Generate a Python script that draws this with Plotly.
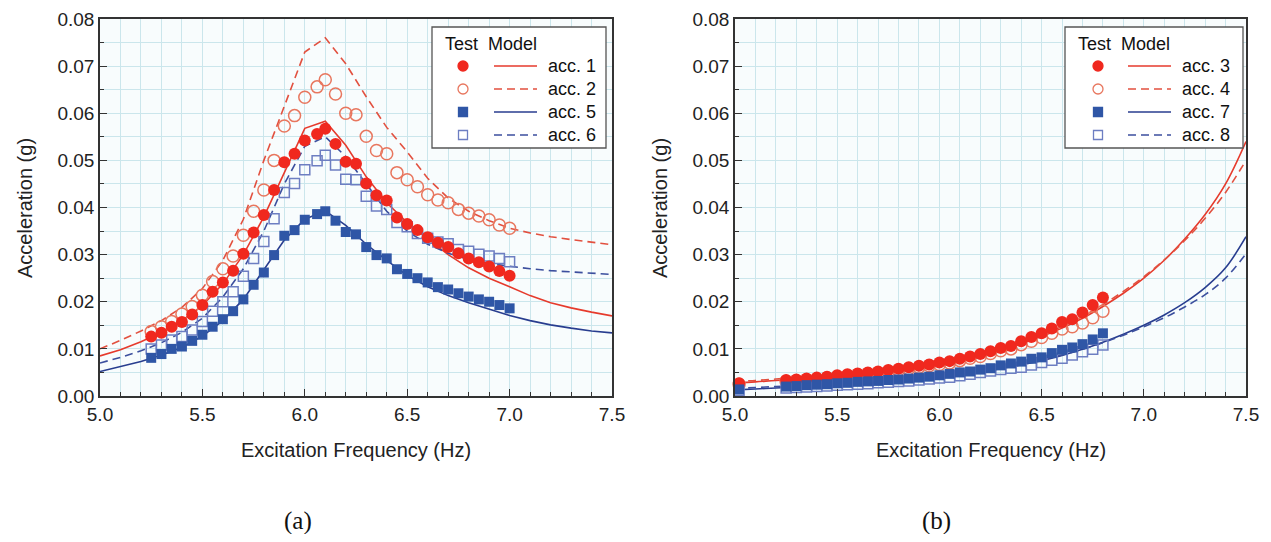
import plotly.graph_objects as go

# page is 1271 x 542; body keeps its default 8px margin, so the figure is 16px smaller
PAGE_W, PAGE_H = 1271, 542
OFF = 8
W, H = PAGE_W - 2 * OFF, PAGE_H - 2 * OFF

# ---------------- Panel (a) data ----------------
test_freq_a = [5.25, 5.30, 5.35, 5.40, 5.45, 5.50, 5.55, 5.60, 5.65, 5.70, 5.75, 5.80,
               5.85, 5.90, 5.95, 6.00, 6.06, 6.10, 6.15, 6.20, 6.25, 6.30, 6.35, 6.40,
               6.45, 6.50, 6.55, 6.60, 6.65, 6.70, 6.75, 6.80, 6.85, 6.90, 6.95, 7.00]
acc1_test = [0.0126, 0.0134, 0.0147, 0.0157, 0.0173, 0.0193, 0.0221, 0.0241, 0.0266, 0.0302, 0.0347, 0.0384,
             0.0437, 0.0496, 0.0514, 0.0542, 0.0556, 0.0567, 0.0535, 0.0497, 0.0493, 0.0451, 0.0426, 0.0415,
             0.0379, 0.0365, 0.0352, 0.0337, 0.0325, 0.0316, 0.0303, 0.0292, 0.0284, 0.0275, 0.0265, 0.0255]
acc2_test = [0.0137, 0.0147, 0.0158, 0.0174, 0.0190, 0.0214, 0.0243, 0.0270, 0.0297, 0.0341, 0.0392, 0.0437,
             0.0500, 0.0573, 0.0595, 0.0634, 0.0656, 0.0671, 0.0641, 0.0600, 0.0597, 0.0551, 0.0521, 0.0514,
             0.0474, 0.0459, 0.0444, 0.0427, 0.0416, 0.0410, 0.0396, 0.0388, 0.0382, 0.0374, 0.0363, 0.0356]
acc5_test = [0.0081, 0.0089, 0.0100, 0.0105, 0.0117, 0.0130, 0.0147, 0.0163, 0.0180, 0.0205, 0.0236, 0.0262,
             0.0299, 0.0340, 0.0352, 0.0374, 0.0386, 0.0392, 0.0372, 0.0348, 0.0343, 0.0316, 0.0299, 0.0292,
             0.0269, 0.0259, 0.0250, 0.0241, 0.0231, 0.0226, 0.0218, 0.0211, 0.0205, 0.0200, 0.0193, 0.0186]
acc6_test = [0.0100, 0.0108, 0.0119, 0.0126, 0.0140, 0.0158, 0.0180, 0.0200, 0.0221, 0.0254, 0.0292, 0.0328,
             0.0376, 0.0432, 0.0451, 0.0480, 0.0499, 0.0511, 0.0490, 0.0460, 0.0459, 0.0424, 0.0403, 0.0396,
             0.0368, 0.0359, 0.0345, 0.0335, 0.0327, 0.0323, 0.0311, 0.0307, 0.0301, 0.0297, 0.0292, 0.0285]

model_freq = [5.0, 5.1, 5.2, 5.3, 5.4, 5.5, 5.6, 5.7, 5.8, 5.9, 6.0, 6.1, 6.2,
              6.3, 6.4, 6.5, 6.6, 6.7, 6.8, 6.9, 7.0, 7.1, 7.2, 7.3, 7.4, 7.5]
acc1_model = [0.0085, 0.0098, 0.0115, 0.0135, 0.0160, 0.0192, 0.0238, 0.0300, 0.0380, 0.0475, 0.0568, 0.0583, 0.0532,
              0.0465, 0.0410, 0.0368, 0.0333, 0.0300, 0.0272, 0.0250, 0.0232, 0.0213, 0.0198, 0.0187, 0.0178, 0.0170]
acc2_model = [0.0100, 0.0118, 0.0138, 0.0160, 0.0188, 0.0228, 0.0288, 0.0375, 0.0500, 0.0615, 0.0730, 0.0760, 0.0705,
              0.0635, 0.0570, 0.0518, 0.0462, 0.0420, 0.0392, 0.0372, 0.0356, 0.0346, 0.0338, 0.0332, 0.0326, 0.0321]
acc5_model = [0.0052, 0.0062, 0.0073, 0.0087, 0.0103, 0.0127, 0.0160, 0.0205, 0.0267, 0.0331, 0.0375, 0.0393, 0.0362,
              0.0322, 0.0288, 0.0256, 0.0232, 0.0213, 0.0198, 0.0184, 0.0171, 0.0160, 0.0151, 0.0144, 0.0138, 0.0134]
acc6_model = [0.0070, 0.0082, 0.0096, 0.0113, 0.0135, 0.0165, 0.0210, 0.0270, 0.0350, 0.0450, 0.0530, 0.0550, 0.0508,
              0.0450, 0.0392, 0.0350, 0.0322, 0.0303, 0.0290, 0.0281, 0.0275, 0.0270, 0.0266, 0.0263, 0.0260, 0.0258]

# ---------------- Panel (b) data ----------------
test_freq_b = [5.02, 5.25, 5.30, 5.35, 5.40, 5.45, 5.50, 5.55, 5.60, 5.65, 5.70, 5.75, 5.80, 5.85, 5.90, 5.95, 6.00,
               6.05, 6.10, 6.15, 6.20, 6.25, 6.30, 6.35, 6.40, 6.45, 6.50, 6.55, 6.60, 6.65, 6.70, 6.75, 6.80]
acc3_test = [0.0027, 0.0034, 0.0035, 0.0037, 0.0039, 0.0041, 0.0044, 0.0046, 0.0048, 0.0050, 0.0052, 0.0055, 0.0058,
             0.0061, 0.0064, 0.0067, 0.0071, 0.0074, 0.0079, 0.0084, 0.0089, 0.0095, 0.0102, 0.0106, 0.0116, 0.0125,
             0.0133, 0.0143, 0.0157, 0.0163, 0.0177, 0.0193, 0.0209]
acc4_test = [0.0025, 0.0031, 0.0032, 0.0034, 0.0036, 0.0038, 0.0041, 0.0043, 0.0045, 0.0047, 0.0049, 0.0052, 0.0055,
             0.0058, 0.0061, 0.0064, 0.0067, 0.0070, 0.0075, 0.0080, 0.0084, 0.0090, 0.0096, 0.0100, 0.0109, 0.0116,
             0.0124, 0.0133, 0.0142, 0.0147, 0.0155, 0.0166, 0.0180]
acc7_test = [0.0014, 0.0020, 0.0021, 0.0023, 0.0024, 0.0025, 0.0027, 0.0028, 0.0030, 0.0031, 0.0032, 0.0034, 0.0035,
             0.0037, 0.0039, 0.0041, 0.0044, 0.0047, 0.0050, 0.0052, 0.0056, 0.0059, 0.0065, 0.0069, 0.0073, 0.0079,
             0.0082, 0.0091, 0.0098, 0.0103, 0.0110, 0.0120, 0.0133]
acc8_test = [0.0012, 0.0017, 0.0018, 0.0019, 0.0020, 0.0021, 0.0023, 0.0024, 0.0025, 0.0026, 0.0028, 0.0029, 0.0031,
             0.0032, 0.0034, 0.0036, 0.0038, 0.0040, 0.0043, 0.0046, 0.0050, 0.0053, 0.0056, 0.0059, 0.0061, 0.0066,
             0.0071, 0.0076, 0.0080, 0.0087, 0.0094, 0.0099, 0.0108]

acc3_model = [0.0028, 0.0030, 0.0033, 0.0035, 0.0038, 0.0042, 0.0046, 0.0051, 0.0057, 0.0063, 0.0070, 0.0078, 0.0087,
              0.0098, 0.0111, 0.0126, 0.0144, 0.0165, 0.0190, 0.0218, 0.0250, 0.0288, 0.0333, 0.0385, 0.0450, 0.0540]
acc4_model = [0.0031, 0.0033, 0.0036, 0.0039, 0.0042, 0.0046, 0.0050, 0.0055, 0.0061, 0.0067, 0.0074, 0.0082, 0.0091,
              0.0102, 0.0115, 0.0130, 0.0148, 0.0169, 0.0194, 0.0222, 0.0253, 0.0289, 0.0330, 0.0377, 0.0432, 0.0500]
acc7_model = [0.0013, 0.0015, 0.0017, 0.0019, 0.0021, 0.0023, 0.0026, 0.0029, 0.0032, 0.0036, 0.0040, 0.0045, 0.0051,
              0.0058, 0.0066, 0.0075, 0.0086, 0.0099, 0.0114, 0.0131, 0.0150, 0.0172, 0.0198, 0.0230, 0.0272, 0.0338]
acc8_model = [0.0016, 0.0018, 0.0020, 0.0022, 0.0024, 0.0026, 0.0029, 0.0032, 0.0035, 0.0039, 0.0043, 0.0048, 0.0054,
              0.0060, 0.0068, 0.0077, 0.0087, 0.0099, 0.0113, 0.0129, 0.0147, 0.0166, 0.0189, 0.0215, 0.0250, 0.0302]

legend_a = ["acc. 1", "acc. 2", "acc. 5", "acc. 6"]
legend_b = ["acc. 3", "acc. 4", "acc. 7", "acc. 8"]

# ---------------- styles ----------------
RED = "#f0281e"
RED_OPEN = "#e8765e"
RED_LINE = "#e63a2c"
RED_DASH = "#e2503f"
BLUE = "#2f56a6"
BLUE_OPEN = "#6d7ec2"
BLUE_LINE = "#283d8f"
BLUE_DASH = "#3c4f9e"
GRID = "#cbe6ec"
PLOTBG = "#f8fcfd"
FONT = "Liberation Sans, Arial, sans-serif"
DASH = "8px,5px"

fig = go.Figure()

def add_panel(xa, ya, tf, t1, t2, t3, t4, mf, m1, m2, m3, m4, shape, msize):
    sq = msize - 2
    fig.add_trace(go.Scatter(x=mf, y=m1, mode="lines", line=dict(color=RED_LINE, width=1.6, shape=shape),
                             xaxis=xa, yaxis=ya, showlegend=False))
    fig.add_trace(go.Scatter(x=mf, y=m2, mode="lines", line=dict(color=RED_DASH, width=1.6, dash=DASH, shape=shape),
                             xaxis=xa, yaxis=ya, showlegend=False))
    fig.add_trace(go.Scatter(x=mf, y=m3, mode="lines", line=dict(color=BLUE_LINE, width=1.6, shape=shape),
                             xaxis=xa, yaxis=ya, showlegend=False))
    fig.add_trace(go.Scatter(x=mf, y=m4, mode="lines", line=dict(color=BLUE_DASH, width=1.6, dash=DASH, shape=shape),
                             xaxis=xa, yaxis=ya, showlegend=False))
    fig.add_trace(go.Scatter(x=tf, y=t2, mode="markers", cliponaxis=False,
                             marker=dict(symbol="circle-open", size=msize, color=RED_OPEN, line=dict(width=1.5)),
                             xaxis=xa, yaxis=ya, showlegend=False))
    fig.add_trace(go.Scatter(x=tf, y=t4, mode="markers", cliponaxis=False,
                             marker=dict(symbol="square-open", size=sq, color=BLUE_OPEN, line=dict(width=1.5)),
                             xaxis=xa, yaxis=ya, showlegend=False))
    fig.add_trace(go.Scatter(x=tf, y=t1, mode="markers", cliponaxis=False,
                             marker=dict(symbol="circle", size=msize, color=RED, line=dict(width=0)),
                             xaxis=xa, yaxis=ya, showlegend=False))
    fig.add_trace(go.Scatter(x=tf, y=t3, mode="markers", cliponaxis=False,
                             marker=dict(symbol="square", size=sq, color=BLUE, line=dict(width=0)),
                             xaxis=xa, yaxis=ya, showlegend=False))

add_panel("x", "y", test_freq_a, acc1_test, acc2_test, acc5_test, acc6_test,
          model_freq, acc1_model, acc2_model, acc5_model, acc6_model, "linear", 12)
add_panel("x2", "y2", test_freq_b, acc3_test, acc4_test, acc7_test, acc8_test,
          model_freq, acc3_model, acc4_model, acc7_model, acc8_model, "spline", 12)

# convert page pixel positions into paper fractions of the figure
def px(x):
    return (x - OFF) / W

def py(y):
    return 1 - (y - OFF) / H

def xaxis(x0, x1):
    return dict(domain=[px(x0), px(x1)], range=[5.0, 7.5], dtick=0.5, tick0=5.0, tickformat=".1f",
                automargin=False,
                showline=True, linecolor="#333", linewidth=1.6, mirror=True,
                ticks="inside", ticklen=7, tickwidth=1.4, tickcolor="#333",
                showgrid=True, gridcolor=GRID, gridwidth=1, zeroline=False,
                tickfont=dict(family=FONT, size=19, color="#222"),
                minor=dict(dtick=0.1, ticks="inside", ticklen=4, tickwidth=1.2, tickcolor="#333",
                           showgrid=True, gridcolor=GRID, gridwidth=1))

def yaxis(anchor):
    return dict(domain=[py(396), py(19)], range=[0, 0.08], dtick=0.01, tick0=0, tickformat=".2f",
                anchor=anchor, automargin=False,
                showline=True, linecolor="#333", linewidth=1.6, mirror=True,
                ticks="inside", ticklen=7, tickwidth=1.4, tickcolor="#333",
                showgrid=True, gridcolor=GRID, gridwidth=1, zeroline=False,
                tickfont=dict(family=FONT, size=19, color="#222"),
                minor=dict(dtick=0.005, ticks="inside", ticklen=4, tickwidth=1.2, tickcolor="#333",
                           showgrid=True, gridcolor=GRID, gridwidth=1))

shapes = []
annotations = []

def add_legend(bx0, bx1, by0, by1, title_x, marker_x, line_x0, line_x1, text_x, row_y, title_y, labels):
    shapes.append(dict(type="rect", xref="paper", yref="paper", x0=px(bx0), x1=px(bx1), y0=py(by1), y1=py(by0),
                       fillcolor="white", line=dict(color="#555", width=1.3), layer="above"))
    annotations.append(dict(text="Test  Model", xref="paper", yref="paper", x=px(title_x), y=py(title_y),
                            xanchor="left", yanchor="middle", showarrow=False,
                            font=dict(family=FONT, size=18, color="#111")))
    styles = [
        ("circle", RED, RED, RED_LINE, "solid"),
        ("circle", "white", RED_OPEN, RED_DASH, DASH),
        ("rect", BLUE, BLUE, BLUE_LINE, "solid"),
        ("rect", "white", BLUE_OPEN, BLUE_DASH, DASH),
    ]
    for i, (kind, fill, edge, lc, ld) in enumerate(styles):
        yy = row_y[i]
        r = 5 if kind == "circle" else 4.5
        shapes.append(dict(type=kind, xref="paper", yref="paper",
                           x0=px(marker_x - r), x1=px(marker_x + r), y0=py(yy + r), y1=py(yy - r),
                           fillcolor=fill, line=dict(color=edge, width=1.3), layer="above"))
        shapes.append(dict(type="line", xref="paper", yref="paper",
                           x0=px(line_x0), x1=px(line_x1), y0=py(yy), y1=py(yy),
                           line=dict(color=lc, width=1.6, dash=ld), layer="above"))
        annotations.append(dict(text=labels[i], xref="paper", yref="paper", x=px(text_x), y=py(yy),
                                xanchor="left", yanchor="middle", showarrow=False,
                                font=dict(family=FONT, size=18, color="#111")))

rows = [66, 89, 112, 135]
add_legend(432, 606, 27, 148, 443, 463, 494, 537, 546, rows, 44, legend_a)
add_legend(1065, 1243, 27, 148, 1076, 1098, 1128, 1171, 1180, rows, 44, legend_b)

# axis titles and panel labels
for cx in [(100 + 612) / 2, (735 + 1246) / 2]:
    annotations.append(dict(text="Excitation Frequency (Hz)", xref="paper", yref="paper", x=px(cx), y=py(450),
                            xanchor="center", yanchor="middle", showarrow=False,
                            font=dict(family=FONT, size=20, color="#222")))
for cx in [25, 660]:
    annotations.append(dict(text="Acceleration (g)", xref="paper", yref="paper", x=px(cx), y=py(208),
                            xanchor="center", yanchor="middle", showarrow=False, textangle=-90,
                            font=dict(family=FONT, size=20, color="#222")))
annotations.append(dict(text="(a)", xref="paper", yref="paper", x=px(298), y=py(521),
                        xanchor="center", yanchor="middle", showarrow=False,
                        font=dict(family="Liberation Serif, Times New Roman, serif", size=25, color="#111")))
annotations.append(dict(text="(b)", xref="paper", yref="paper", x=px(936), y=py(521),
                        xanchor="center", yanchor="middle", showarrow=False,
                        font=dict(family="Liberation Serif, Times New Roman, serif", size=25, color="#111")))

fig.update_layout(
    width=W, height=H, autosize=False,
    margin=dict(l=0, r=0, t=0, b=0, pad=0, autoexpand=False),
    paper_bgcolor="white", plot_bgcolor=PLOTBG,
    showlegend=False,
    xaxis=dict(xaxis(100, 612), anchor="y"),
    yaxis=yaxis("x"),
    xaxis2=dict(xaxis(735, 1246), anchor="y2"),
    yaxis2=yaxis("x2"),
    shapes=shapes,
    annotations=annotations,
    font=dict(family=FONT),
)

fig.write_html("out.html", config={"displayModeBar": False})
